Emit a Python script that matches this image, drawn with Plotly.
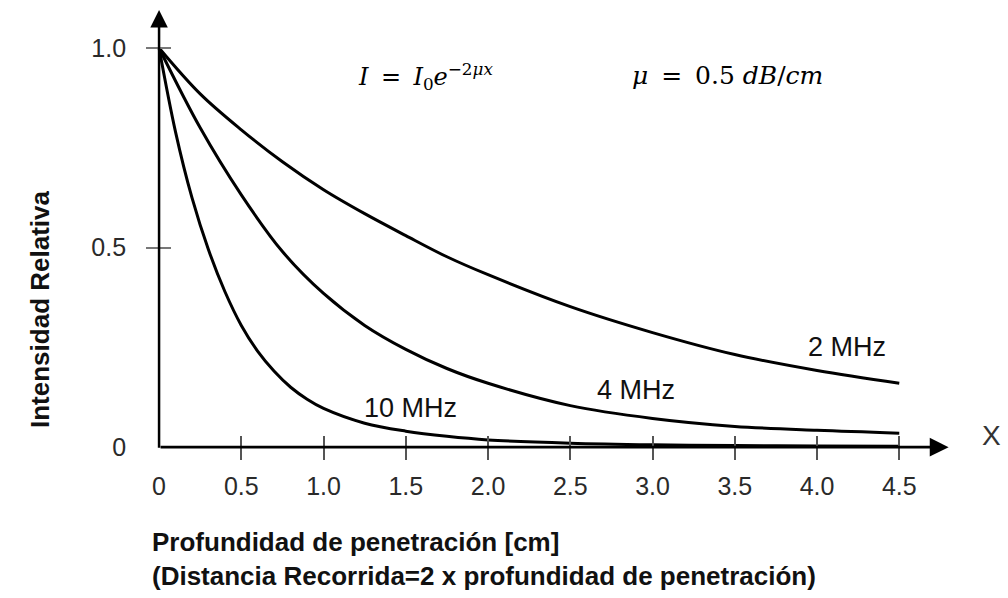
import plotly.graph_objects as go

# ---- data ----
x_2mhz = [0, 0.25, 0.5, 0.75, 1.0, 1.25, 1.5, 1.75, 2.0, 2.5, 3.0, 3.5, 4.0, 4.5]
y_2mhz = [1.0, 0.885, 0.795, 0.715, 0.645, 0.585, 0.53, 0.477, 0.432, 0.352, 0.287, 0.232, 0.192, 0.16]

x_4mhz = [0, 0.25, 0.5, 0.75, 1.0, 1.25, 1.5, 1.75, 2.0, 2.5, 3.0, 3.5, 4.0, 4.5]
y_4mhz = [1.0, 0.80, 0.632, 0.49, 0.385, 0.305, 0.245, 0.197, 0.16, 0.104, 0.072, 0.052, 0.042, 0.035]

x_10mhz = [0, 0.1, 0.2, 0.3, 0.4, 0.5, 0.6, 0.7, 0.8, 0.9, 1.0, 1.25, 1.5, 1.75, 2.0, 2.5, 3.0, 3.5, 4.0, 4.5]
y_10mhz = [1.0, 0.79, 0.625, 0.495, 0.39, 0.305, 0.24, 0.19, 0.15, 0.12, 0.097, 0.06, 0.04, 0.027, 0.018, 0.01, 0.006, 0.004, 0.003, 0.002]

series_names = ["2 MHz", "4 MHz", "10 MHz"]
label_pos = [(4.18, 0.25), (2.9, 0.143), (1.53, 0.098)]

x_tickvals = [0, 0.5, 1.0, 1.5, 2.0, 2.5, 3.0, 3.5, 4.0, 4.5]
x_ticktext = ["0", "0.5", "1.0", "1.5", "2.0", "2.5", "3.0", "3.5", "4.0", "4.5"]
y_tickvals = [0, 0.5, 1.0]
y_ticktext = ["0", "0.5", "1.0"]

x_axis_end = 4.8
y_axis_end = 1.095

x_title = "<b>Profundidad de penetración [cm]<br>(Distancia Recorrida=2 x profundidad de penetración)</b>"
y_title = "<b>Intensidad Relativa</b>"
eq1 = "<i>I</i>\u2009 = \u2009<i>I</i><sub>0</sub><i>e</i><sup>−2<i>μx</i></sup>"
eq2 = "<i>μ</i>\u2009 = \u20090.5 <i>dB</i>/<i>cm</i>"

# ---- layout geometry ----
W, H = 1008, 598
XR = [-0.967, 5.161]
YR = [-0.378, 1.1203]
xpos = (0 - YR[0]) / (YR[1] - YR[0])
ypos = (0 - XR[0]) / (XR[1] - XR[0])

SANS = "Liberation Sans, Arial, sans-serif"
SERIF = "DejaVu Serif, Liberation Serif, serif"

fig = go.Figure()
for xs, ys, nm in zip([x_2mhz, x_4mhz, x_10mhz], [y_2mhz, y_4mhz, y_10mhz], series_names):
    fig.add_trace(go.Scatter(x=xs, y=ys, mode="lines", name=nm,
                             line=dict(color="black", width=3, shape="spline", smoothing=1.0),
                             showlegend=False, hoverinfo="skip"))

# invisible traces to activate overlay axes (for crossing ticks)
fig.add_trace(go.Scatter(x=[None], y=[None], xaxis="x2", yaxis="y2", showlegend=False))
fig.add_trace(go.Scatter(x=[None], y=[None], xaxis="x3", yaxis="y3", showlegend=False))

tick_font = dict(family=SANS, size=25, color="#2a2a2a")
common = dict(showgrid=False, zeroline=False, showline=False, anchor="free")

fig.update_layout(
    width=W, height=H, margin=dict(l=0, r=0, t=0, b=0),
    paper_bgcolor="white", plot_bgcolor="white",
    xaxis=dict(range=XR, position=xpos, tickmode="array", tickvals=x_tickvals, ticktext=x_ticktext,
               ticks="", tickfont=tick_font, ticklabelstandoff=22, **common),
    yaxis=dict(range=YR, position=ypos, tickmode="array", tickvals=y_tickvals, ticktext=y_ticktext,
               ticks="", tickfont=tick_font, ticklabelstandoff=33, **common),
    xaxis2=dict(range=XR, overlaying="x", position=xpos, tickmode="array", tickvals=x_tickvals[1:],
                ticks="outside", ticklen=12, tickwidth=1.5, tickcolor="#555",
                showticklabels=False, **common),
    yaxis2=dict(range=YR, overlaying="y", position=ypos, tickmode="array", tickvals=y_tickvals[1:],
                ticks="outside", ticklen=13, tickwidth=1.5, tickcolor="#777",
                showticklabels=False, **common),
    xaxis3=dict(range=XR, overlaying="x", position=xpos, tickmode="array", tickvals=x_tickvals[1:],
                ticks="inside", ticklen=11, tickwidth=1.5, tickcolor="#555",
                showticklabels=False, **common),
    yaxis3=dict(range=YR, overlaying="y", position=ypos, tickmode="array", tickvals=y_tickvals[1:],
                ticks="inside", ticklen=11, tickwidth=1.5, tickcolor="#777",
                showticklabels=False, **common),
)

# axis lines with arrowheads
fig.add_annotation(x=x_axis_end, y=0, ax=0, ay=0, xref="x", yref="y", axref="x", ayref="y",
                   text="", showarrow=True, arrowhead=2, arrowsize=1.4, arrowwidth=2.7,
                   arrowcolor="black", standoff=0, startstandoff=0)
fig.add_annotation(x=0, y=y_axis_end, ax=0, ay=-0.005, xref="x", yref="y", axref="x", ayref="y",
                   text="", showarrow=True, arrowhead=2, arrowsize=1.4, arrowwidth=2.5,
                   arrowcolor="black", standoff=0, startstandoff=0)

# curve labels
for (lx, ly), nm in zip(label_pos, series_names):
    fig.add_annotation(x=lx, y=ly, text=nm, showarrow=False,
                       font=dict(family=SANS, size=27, color="#111"))

# X label
fig.add_annotation(x=5.06, y=0.03, text="X", showarrow=False,
                   font=dict(family=SANS, size=28, color="#333"))

# equations
fig.add_annotation(x=1.62, y=0.928, text=eq1, showarrow=False,
                   font=dict(family=SERIF, size=24, color="black"))
fig.add_annotation(x=3.455, y=0.93, text=eq2, showarrow=False,
                   font=dict(family=SERIF, size=25, color="black"))

# axis titles
fig.add_annotation(x=150 / W, y=1 - 559 / H, xref="paper", yref="paper", text=x_title,
                   showarrow=False, xanchor="left", yanchor="middle", align="left",
                   font=dict(family=SANS, size=26, color="#111"))
fig.add_annotation(x=23 / W, y=1 - 310 / H, xref="paper", yref="paper", text=y_title,
                   showarrow=False, textangle=-90,
                   font=dict(family=SANS, size=26, color="#111"))

fig.write_html("out.html")
